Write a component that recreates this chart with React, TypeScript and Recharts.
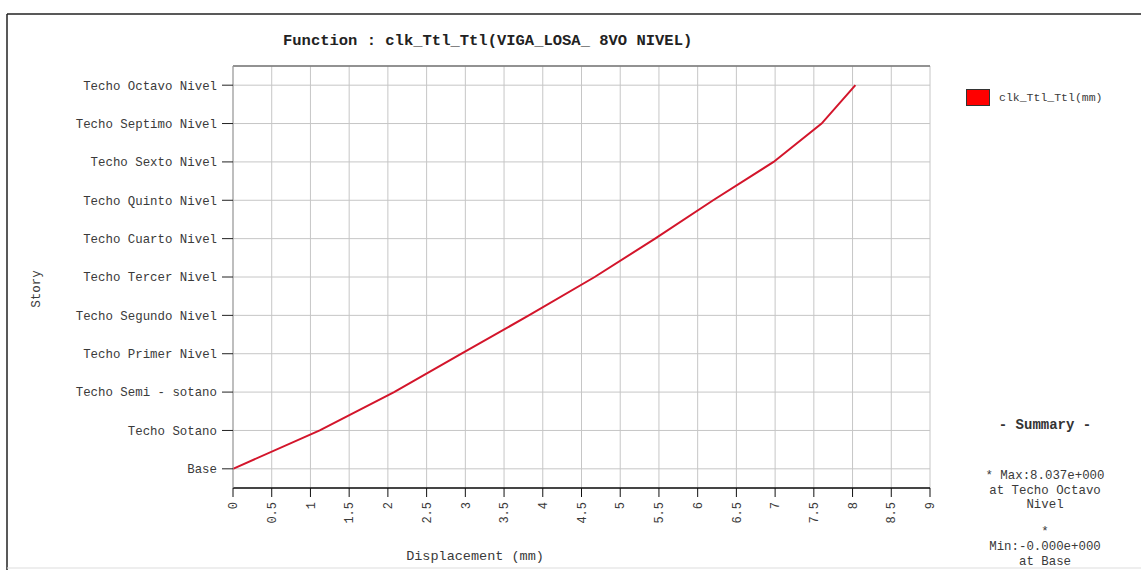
import React from 'react';
import { LineChart, Line, XAxis, YAxis, CartesianGrid, ReferenceLine, Legend } from 'recharts';

// story names, bottom to top
const storyLevels = [
  'Base',
  'Techo Sotano',
  'Techo Semi - sotano',
  'Techo Primer Nivel',
  'Techo Segundo Nivel',
  'Techo Tercer Nivel',
  'Techo Cuarto Nivel',
  'Techo Quinto Nivel',
  'Techo Sexto Nivel',
  'Techo Septimo Nivel',
  'Techo Octavo Nivel',
];

// displacement (mm) read at each story
const displacements = [0, 1.12, 2.08, 2.95, 3.82, 4.67, 5.45, 6.2, 6.98, 7.6, 8.037];

const xTicks = [0, 0.5, 1, 1.5, 2, 2.5, 3, 3.5, 4, 4.5, 5, 5.5, 6, 6.5, 7, 7.5, 8, 8.5, 9];
const yTicks = [0, 1, 2, 3, 4, 5, 6, 7, 8, 9, 10];

const seriesName = 'clk_Ttl_Ttl(mm)';
const summaryLines = ['* Max:8.037e+000', 'at Techo Octavo', 'Nivel', '*', 'Min:-0.000e+000', 'at Base'];

const data = storyLevels.map((story, i) => ({ story, level: i, disp: displacements[i] }));

const MONO = '"Liberation Mono", "DejaVu Sans Mono", monospace';
const TEXT = '#3a3a3a';

const XTick = (props: any) => {
  const { x, y, payload } = props;
  return (
    <text
      x={x}
      y={y}
      transform={`rotate(-90, ${x}, ${y})`}
      textAnchor="end"
      dy="0.35em"
      fontFamily={MONO}
      fontSize={12}
      fill={TEXT}
    >
      {payload.value}
    </text>
  );
};

const LegendBox = () => (
  <div style={{ display: 'flex', alignItems: 'center' }}>
    <span
      style={{
        display: 'inline-block',
        width: 22,
        height: 15,
        background: '#ff0000',
        border: '1px solid #333',
      }}
    />
    <span style={{ marginLeft: 9, fontFamily: MONO, fontSize: 11.5, color: TEXT }}>{seriesName}</span>
  </div>
);

export default function App() {
  return (
    <div
      style={{
        position: 'fixed',
        left: 0,
        top: 0,
        width: 1141,
        height: 570,
        background: '#fff',
        overflow: 'hidden',
      }}
    >
      <LineChart
        width={1141}
        height={570}
        data={data}
        margin={{ top: 66, right: 211, bottom: 0, left: 0 }}
      >
        <CartesianGrid stroke="#c6c6c6" />
        <XAxis
          type="number"
          dataKey="disp"
          domain={[0, 9]}
          ticks={xTicks}
          interval={0}
          height={82}
          tickSize={9}
          tickMargin={5}
          axisLine={{ stroke: '#111', strokeWidth: 1.5 }}
          tickLine={{ stroke: '#111' }}
          tick={<XTick />}
        />
        <YAxis
          type="number"
          dataKey="level"
          domain={[-0.5, 10.5]}
          ticks={yTicks}
          interval={0}
          width={233}
          tickSize={11}
          tickMargin={5}
          tickFormatter={(v: number) => storyLevels[v]}
          axisLine={{ stroke: '#999' }}
          tickLine={{ stroke: '#222' }}
          tick={{ fontFamily: MONO, fontSize: 12.4, fill: TEXT }}
        />
        <ReferenceLine y={10.5} stroke="#777" strokeWidth={1.5} />
        <Legend
          layout="vertical"
          verticalAlign="middle"
          align="center"
          wrapperStyle={{ top: 89, left: 966, width: 170 }}
          content={() => <LegendBox />}
        />
        <Line
          type="linear"
          dataKey="level"
          name={seriesName}
          stroke="#d3152b"
          strokeWidth={2}
          dot={false}
          isAnimationActive={false}
        />
      </LineChart>

      <svg
        width={1141}
        height={570}
        style={{ position: 'absolute', left: 0, top: 0, pointerEvents: 'none' }}
      >
        {/* page frame */}
        <line x1={7} y1={14} x2={1141} y2={14} stroke="#222" strokeWidth={1.5} />
        <line x1={7} y1={14} x2={7} y2={570} stroke="#222" strokeWidth={1.5} />
        <line x1={7} y1={568} x2={1141} y2={568} stroke="#ddd" strokeWidth={1} />

        <text x={283} y={45} fontFamily={MONO} fontSize={15.5} fontWeight="bold" fill="#222">
          Function : clk_Ttl_Ttl(VIGA_LOSA_ 8VO NIVEL)
        </text>

        <text
          x={36}
          y={289}
          transform="rotate(-90, 36, 289)"
          textAnchor="middle"
          dy="0.35em"
          fontFamily={MONO}
          fontSize={12.5}
          fill={TEXT}
        >
          Story
        </text>

        <text x={475} y={555} textAnchor="middle" dy="0.35em" fontFamily={MONO} fontSize={13.5} fill={TEXT}>
          Displacement (mm)
        </text>

        <text x={1045} y={424} textAnchor="middle" dy="0.35em" fontFamily={MONO} fontSize={14} fontWeight="bold" fill="#333">
          - Summary -
        </text>
        {summaryLines.map((s, i) => {
          const ys = [475, 489.5, 504, 530.5, 545.5, 560.5];
          return (
            <text
              key={i}
              x={1045}
              y={ys[i]}
              textAnchor="middle"
              dy="0.35em"
              fontFamily={MONO}
              fontSize={12.4}
              fill={TEXT}
            >
              {s}
            </text>
          );
        })}
      </svg>
    </div>
  );
}
